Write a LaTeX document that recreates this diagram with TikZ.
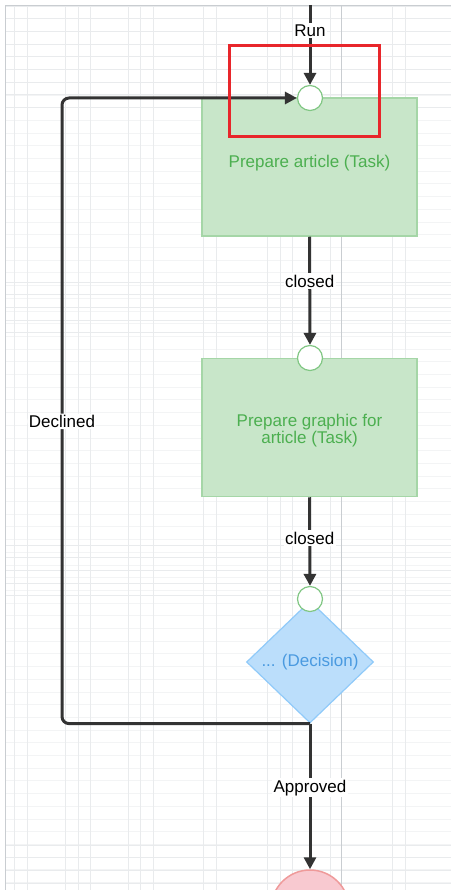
\documentclass[tikz,border=0pt]{standalone}
\usepackage{fontspec}
\setmainfont{Liberation Sans}
\usepackage{tikz}
\usetikzlibrary{arrows.meta,positioning,shapes.geometric}
\definecolor{taskfill}{HTML}{C8E6C9}
\definecolor{taskline}{HTML}{A5D6A7}
\definecolor{tasktext}{HTML}{4CAF50}
\definecolor{portline}{HTML}{81C784}
\definecolor{decfill}{HTML}{BBDEFB}
\definecolor{decline}{HTML}{90CAF9}
\definecolor{dectext}{HTML}{4A9AE0}
\definecolor{endfill}{HTML}{F8C9D0}
\definecolor{endline}{HTML}{EF9A9A}
\definecolor{flowc}{HTML}{333333}
\definecolor{hlred}{HTML}{E8262B}
\definecolor{gridc}{HTML}{E9EBED}
\definecolor{gridd}{HTML}{C9CDD1}
\tikzset{
  >={Triangle[length=12pt,width=12pt]},
  txt/.style={font=\fontsize{17}{17}\selectfont},
  task/.style={txt,draw=taskline,fill=taskfill,line width=1.5pt,text=tasktext,
    minimum width=215pt,minimum height=138pt,align=center,inner sep=0pt},
  port/.style={circle,draw=portline,fill=white,line width=1.2pt,minimum size=25pt,inner sep=0pt},
  decision/.style={txt,diamond,draw=decline,fill=decfill,line width=1.2pt,text=dectext,
    minimum width=127pt,minimum height=122pt,inner sep=0pt},
  finish/.style={circle,draw=endline,fill=endfill,line width=1.5pt,minimum size=78pt},
  flow/.style={->,draw=flowc,line width=3pt},
  lbl/.style={txt,fill=white,text=black,inner sep=1.5pt},
  hilite/.style={draw=hlred,line width=3pt,minimum width=150pt,minimum height=91pt},
}
\begin{document}
\begin{tikzpicture}[x=1pt,y=1pt]
\useasboundingbox (0,0) rectangle (451,-890);
% background grid
\foreach \gy in {6,18.7,...,890} \draw[gridc!55,line width=0.6pt] (5,-\gy) -- (451,-\gy);
\foreach \gy in {6,18.7,...,110,282,294.7,...,340,545,557.7,...,600,845,857.7,...,890}
  \draw[gridc,line width=0.8pt] (5,-\gy) -- (451,-\gy);
\foreach \gx in {14,27,65,78,90,128,140,153,203,216,267,280,292,330,392,405}
  \draw[gridc,line width=1pt] (\gx,-5) -- (\gx,-890);
\draw[gridd,line width=0.8pt] (341,-5) -- (341,-890);
\draw[gridd,line width=0.8pt] (5,-890) -- (5,-5) -- (451,-5);

% shapes
\node[task,text depth=12pt] (prep) at (309.5,-167) {Prepare article (Task)};
\node[task,text height=35pt] (graphic) at (309.5,-427.5) {Prepare graphic for\\article (Task)};
\node[decision] (dec) at (310,-662) {... (Decision)};
\node[finish] (done) at (310,-909) {};
\node[port] (in1) at (310,-98) {};
\node[port] (in2) at (310,-358) {};
\node[port] (in3) at (310,-599) {};

% connectors
\coordinate (start) at (310,-5);
\coordinate (back2) at (62,-98);
\coordinate (back1) at (back2 |- dec.south);
\draw[flow] (start) -- node[lbl,pos=0.32] {Run} (in1.north);
\draw[flow] (prep.south) -- node[lbl,pos=0.41] {closed} (in2.north);
\draw[flow] (graphic.south) -- node[lbl,pos=0.46] {closed} (in3.north);
\draw[flow] (dec.south) -- node[lbl,pos=0.44] {Approved} (done.north);
\draw[flow,rounded corners=7pt] (dec.south) -- (back1) -- node[lbl,pos=0.483] {Declined} (back2) -- (in1.west);

% highlight
\node[hilite] (mark) at (304,-91.5) {};
\end{tikzpicture}
\end{document}
